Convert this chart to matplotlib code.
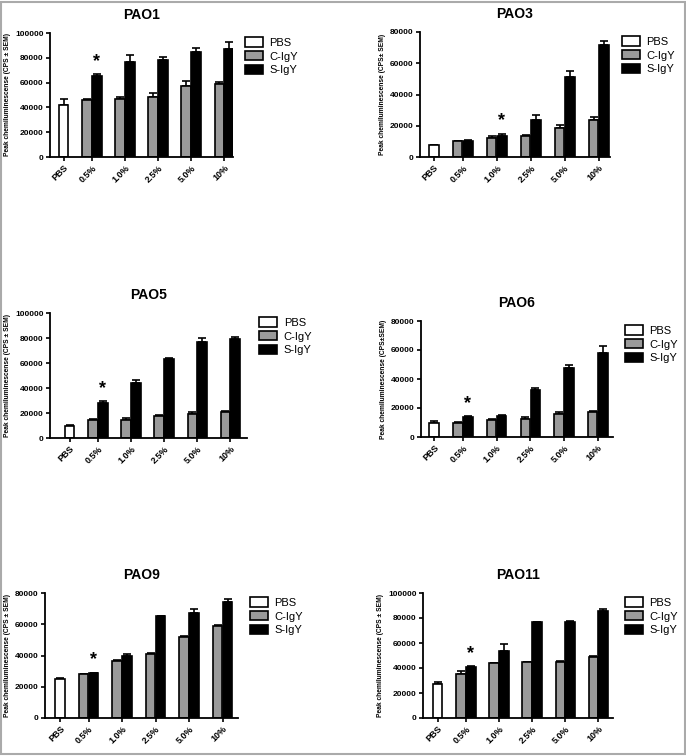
import matplotlib
matplotlib.use("Agg")
import matplotlib.pyplot as plt
from matplotlib.patches import Rectangle

plt.rcParams["font.family"] = ["Liberation Sans", "DejaVu Sans"]

concentrations = ["0.5%", "1.0%", "2.5%", "5.0%", "10%"]
tick_labels = ["PBS"] + concentrations

# PAO1
pao1_pbs, pao1_pbs_err = 42000, 5000
pao1_c = [46000, 47000, 48500, 57500, 59000]
pao1_c_err = [700, 1000, 3000, 3500, 1200]
pao1_s = [65500, 77000, 78500, 84500, 87500]
pao1_s_err = [1500, 5000, 2500, 3500, 5500]

# PAO3
pao3_pbs, pao3_pbs_err = 7500, 500
pao3_c = [10000, 12000, 13500, 18500, 23500]
pao3_c_err = [500, 1200, 800, 1800, 1800]
pao3_s = [10000, 13500, 24000, 51000, 71500]
pao3_s_err = [700, 1500, 3000, 4000, 2500]

# PAO5
pao5_pbs, pao5_pbs_err = 10000, 500
pao5_c = [14500, 14800, 17500, 19500, 20500]
pao5_c_err = [1000, 1500, 1200, 1200, 800]
pao5_s = [28000, 44000, 63500, 76500, 79000]
pao5_s_err = [1500, 2500, 600, 3500, 1800]

# PAO6
pao6_pbs, pao6_pbs_err = 9500, 1500
pao6_c = [9700, 12000, 12300, 16000, 17000]
pao6_c_err = [500, 400, 1300, 1200, 800]
pao6_s = [13800, 14800, 32500, 47500, 58000]
pao6_s_err = [600, 500, 1000, 2500, 5000]

# PAO9
pao9_pbs, pao9_pbs_err = 25000, 600
pao9_c = [28000, 36500, 41000, 52000, 59000]
pao9_c_err = [300, 500, 300, 800, 500]
pao9_s = [28500, 39500, 65000, 67500, 74500]
pao9_s_err = [500, 1200, 300, 2500, 1500]

# PAO11
pao11_pbs, pao11_pbs_err = 27500, 1200
pao11_c = [35500, 44000, 44500, 45000, 49000]
pao11_c_err = [2500, 400, 400, 300, 500]
pao11_s = [41000, 53500, 76500, 77000, 85500]
pao11_s_err = [500, 5500, 400, 1000, 1800]

panels = [
    # title, pbs, pbs_err, c, c_err, s, s_err, ymax, ylabel, star index, rect(px), xlim
    ("PAO1", pao1_pbs, pao1_pbs_err, pao1_c, pao1_c_err, pao1_s, pao1_s_err, 100000,
     "Peak chemiluminescense (CPS \u00b1 SEM)", 0, (50, 33, 233, 157), (-0.42, 5.12)),
    ("PAO3", pao3_pbs, pao3_pbs_err, pao3_c, pao3_c_err, pao3_s, pao3_s_err, 80000,
     "Peak chemiluminescense (CPS\u00b1 SEM)", 1, (420, 32, 610, 157), (-0.41, 5.18)),
    ("PAO5", pao5_pbs, pao5_pbs_err, pao5_c, pao5_c_err, pao5_s, pao5_s_err, 100000,
     "Peak chemiluminescense (CPS \u00b1 SEM)", 0, (50, 313, 247, 438), (-0.6, 5.36)),
    ("PAO6", pao6_pbs, pao6_pbs_err, pao6_c, pao6_c_err, pao6_s, pao6_s_err, 80000,
     "Peak chemiluminescense (CPS\u00b1SEM)", 0, (421, 321, 613, 437), (-0.39, 5.3)),
    ("PAO9", pao9_pbs, pao9_pbs_err, pao9_c, pao9_c_err, pao9_s, pao9_s_err, 80000,
     "Peak chemiluminescense (CPS \u00b1 SEM)", 0, (45, 593, 238, 718), (-0.45, 5.31)),
    ("PAO11", pao11_pbs, pao11_pbs_err, pao11_c, pao11_c_err, pao11_s, pao11_s_err, 100000,
     "Peak chemiluminescense (CPS \u00b1 SEM)", 0, (423, 593, 613, 718), (-0.45, 5.3)),
]

W, H = 686, 756
fig = plt.figure(figsize=(W / 100, H / 100), dpi=100)

grey = "#9a9a9a"
group_x = [0.85 + i for i in range(len(concentrations))]
bw = 0.28
off = 0.15

for (title, pbs, pbs_err, c, c_err, s, s_err, ymax, ylabel, star_i,
     (x0, y0, x1, y1), xlim) in panels:
    ax = fig.add_axes([x0 / W, 1 - y1 / H, (x1 - x0) / W, (y1 - y0) / H])
    cx = [g - off for g in group_x]
    sx = [g + off for g in group_x]

    ax.bar([0], [pbs], width=bw, color="white", edgecolor="black", linewidth=1.2,
           label="PBS", zorder=2)
    ax.bar(cx, c, width=bw, color=grey, edgecolor="black", linewidth=1.2,
           label="C-IgY", zorder=2)
    ax.bar(sx, s, width=bw, color="black", edgecolor="black", linewidth=1.2,
           label="S-IgY", zorder=2)

    # upper error bars only
    ax.errorbar([0], [pbs], yerr=[[0], [pbs_err]], fmt="none", ecolor="black",
                elinewidth=1.2, capsize=3, capthick=1.2, zorder=1)
    ax.errorbar(cx, c, yerr=[[0] * len(c), c_err], fmt="none", ecolor="black",
                elinewidth=1.2, capsize=3, capthick=1.2, zorder=1)
    ax.errorbar(sx, s, yerr=[[0] * len(s), s_err], fmt="none", ecolor="black",
                elinewidth=1.2, capsize=3, capthick=1.2, zorder=1)

    ax.annotate("*", (sx[star_i], s[star_i] + s_err[star_i]), xytext=(0, 3),
                textcoords="offset points", ha="center", va="bottom",
                fontsize=13, fontweight="bold")

    ax.set_xlim(*xlim)
    ax.set_ylim(0, ymax)
    ax.set_yticks(range(0, ymax + 1, 20000))
    ax.set_xticks([0] + group_x)
    ax.set_xticklabels(tick_labels, rotation=45, ha="right", rotation_mode="anchor",
                       fontsize=6.5, fontweight="bold")
    for lab in ax.get_yticklabels():
        lab.set_fontsize(6)
        lab.set_fontweight("bold")
    ax.tick_params(direction="out", length=3, width=1.2, pad=1.5)

    for side in ["top", "right"]:
        ax.spines[side].set_visible(False)
    for side in ["left", "bottom"]:
        ax.spines[side].set_linewidth(1.3)

    ax.set_title(title, fontsize=10, fontweight="bold", pad=10)
    ax.set_ylabel(ylabel, fontsize=4.8, fontweight="bold", labelpad=3)
    ax.legend(loc="upper left", bbox_to_anchor=(1.04, 1.0), frameon=False,
              fontsize=8, handlelength=1.6, handleheight=0.9, labelspacing=0.3,
              handletextpad=0.6, borderaxespad=0)

# grey frame around the whole figure
fig.patches.append(Rectangle((0.002, 0.002), 0.996, 0.996, transform=fig.transFigure,
                             fill=False, edgecolor="#aaaaaa", linewidth=1.5))

fig.savefig("out.png", dpi=100)
